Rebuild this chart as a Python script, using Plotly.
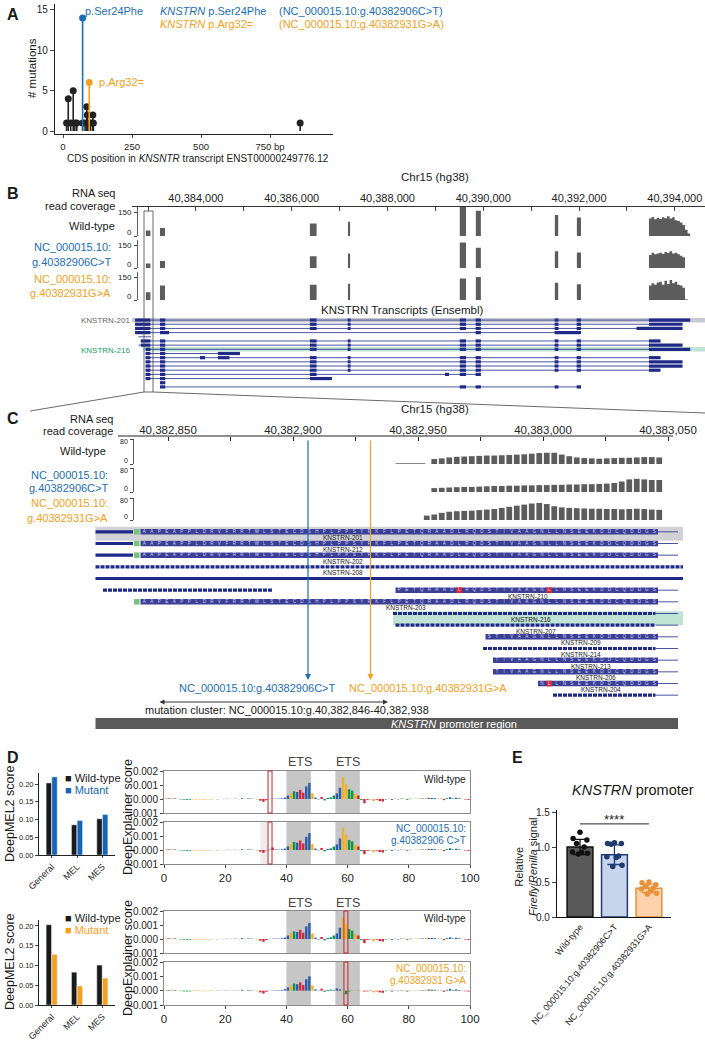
import numpy as np
import plotly.graph_objects as go

W, H = 705, 1042
OX, OY = 0, 0
FW, FH = W - OX, H - OY
FONT = "Liberation Sans, Arial, Helvetica, sans-serif"
TXT = "#1a1a1a"
BLUE = "#1c6db5"
ORANGE = "#f4a020"
NAVY = "#1f2a88"
AA_FILL = "#3b3f95"
GRAYC = "#5c5c5c"

# ===================== DATA =====================
# ---- Panel A: lollipop ----
A_BLACK_POS = [13, 19, 28, 37, 43, 50, 71, 80, 86, 88, 92, 100, 108, 110, 859]
A_BLACK_CNT = [1, 4, 1, 5, 1, 1, 1, 1, 3, 2, 1, 1, 2, 1, 1]
A_SER_POS = [71]
A_SER_CNT = [14]
A_ARG_POS = [95]
A_ARG_CNT = [6]
A_XTICKS = [0, 250, 500, 750]
A_XTICKTEXT = ["0", "250", "500", "750 bp"]
A_YTICKS = [0, 5, 10, 15]

# ---- Panel B: gene-wide coverage ----
B_RULER_TICKS = list(range(40383000, 40395000, 1000))
B_EXON_START = [40382955, 40383250, 40386380, 40387175, 40389510, 40389845, 40391495, 40391955]
B_EXON_END = [40383050, 40383355, 40386520, 40387220, 40389640, 40389950, 40391565, 40392040]
B_COV_WT = [35, 51, 79, 90, 183, 160, 132, 117]
B_COV_MUT1 = [29, 46, 77, 95, 167, 132, 110, 101]
B_COV_MUT2 = [51, 94, 99, 107, 141, 150, 112, 103]
B_LAST_START, B_LAST_END = 40393460, 40394320
B_LAST_WT = [110, 120, 105, 115, 108, 118, 112, 125, 110, 118, 100, 95, 85, 70, 40, 15]
B_LAST_MUT1 = [85, 100, 90, 95, 100, 92, 105, 98, 110, 95, 100, 90, 80, 70, 0, 0]
B_LAST_MUT2 = [95, 110, 100, 115, 120, 100, 125, 105, 130, 110, 120, 100, 95, 80, 5, 0]

TX_BLOCKS = {
    "a1": (40382730, 40383050), "a2": (40382850, 40383050), "a3": (40382950, 40383050),
    "b": (40383250, 40383360), "b2": (40383250, 40383440),
    "x1": (40384460, 40384920), "x2": (40384085, 40384190), "x3": (40384460, 40384700),
    "c": (40386380, 40386520), "c2": (40386380, 40386840), "d": (40387170, 40387230),
    "y1": (40389200, 40389285), "e": (40389510, 40389640), "f": (40389840, 40389950),
    "g": (40391490, 40391570), "gh": (40391490, 40392040), "h": (40391950, 40392040),
    "i_full": (40393460, 40394320), "i_mid": (40393460, 40394160),
    "i_short": (40393460, 40393700), "i_long": (40393200, 40394160),
}
B_TX_ROWS = [
    (40382730, 40394320, ["a1", "b", "c", "d", "e", "f", "g", "h", "i_full"]),
    (40382730, 40394160, ["a1", "b", "c", "d", "e", "f", "g", "h", "i_mid"]),
    (40382730, 40394160, ["a1", "b", "c", "d", "e", "f", "g", "h", "i_long"]),
    (40382730, 40392040, ["a1", "b2", "f", "gh"]),
    (40382800, 40383060, []),
    (40382850, 40393700, ["a2", "b", "c", "d", "e", "f", "g", "h", "i_short"]),
    (40382800, 40394160, ["a2", "b", "c", "d", "e", "f", "g", "h", "i_mid"]),
    (40382950, 40394320, ["a3", "b", "c", "d", "e", "f", "g", "h", "i_full"]),
    (40382950, 40384920, ["a3", "b", "x1"]),
    (40382950, 40393700, ["a3", "b", "x2", "x3", "c", "d", "e", "f", "g", "h", "i_short"]),
    (40382950, 40394160, ["a3", "b", "c", "d", "e", "f", "g", "h", "i_mid"]),
    (40382950, 40394160, ["a3", "b", "c", "d", "e", "f", "g", "h", "i_mid"]),
    (40382950, 40393700, ["a3", "b", "c", "d", "e", "f", "g", "h", "i_short"]),
    (40382950, 40389950, ["a3", "b", "c", "y1", "e", "f"]),
    (40382950, 40386840, ["a3", "b", "c2"]),
    (40383250, 40383360, ["b"]),
    (40383250, 40392040, ["b", "e", "f", "g", "h"]),
]

# ---- Panel C: promoter zoom ----
C_RULER_TICKS = list(range(40382850, 40383051, 25))
C_COV_POS = np.arange(40382952, 40383048, 3)
C_COV_WT = [0, 16, 18, 21, 23, 24, 25, 26, 27, 27, 28, 29, 30, 31, 33, 35, 36, 36, 30, 25,
            21, 19, 18, 17, 18, 19, 20, 20, 21, 22, 22, 21]
C_COV_MUT1 = [0, 13, 14, 15, 16, 17, 17, 18, 19, 20, 20, 21, 21, 22, 22, 23, 23, 24, 24, 25,
              25, 26, 26, 27, 28, 30, 35, 42, 44, 42, 40, 40]
C_COV_MUT2 = [16, 20, 26, 30, 32, 33, 34, 36, 38, 40, 44, 48, 52, 56, 60, 62, 58, 50, 46, 44,
              43, 42, 41, 41, 40, 40, 39, 40, 41, 40, 38, 37]
C_WT_LOW_X = [40382941, 40382953]
C_WT_LOW_Y = [1.5, 1.5]
MUT_POS = [40382906, 40382931]
MUT_LABELS = ["NC_000015.10:g.40382906C>T", "NC_000015.10:g.40382931G>A"]
CLUSTER = [40382846, 40382938]
PROMOTER = [40382821, 40383054]
CDS_START = 40382836
CODON0 = 40382839
PROTEIN = "MAAPEAPPLDRVFRRTWLSTECDSHPLPPSYRKFLPETQRAADLRQDSTIVAAGNLLNSEEKDDCQDDGSHAP"
N_CODONS = 69
C_ROWS = [
    dict(name="KNSTRN-201", kind="coding", utr=40382821, m=True, first=0, red=[]),
    dict(name="KNSTRN-212", kind="coding", utr=40382821, m=True, first=0, red=[]),
    dict(name="KNSTRN-202", kind="coding", utr=40382821, m=True, first=0, red=[]),
    dict(name="KNSTRN-208", kind="dashed", start=40382821, end=40383056),
    dict(name="", kind="solid", start=40382821, end=40383056),
    dict(name="KNSTRN-210", kind="coding", pre=(40382824, 40382892), m=False, first=34, red=[42, 54]),
    dict(name="KNSTRN-203", kind="coding", m=True, first=0, red=[]),
    dict(name="KNSTRN-216", kind="dashed", start=40382940, end=40383045),
    dict(name="KNSTRN-207", kind="dashed", start=40382941, end=40383045),
    dict(name="KNSTRN-209", kind="coding", m=False, first=46, red=[]),
    dict(name="KNSTRN-214", kind="dashed", start=40382976, end=40383045),
    dict(name="KNSTRN-213", kind="coding", m=False, first=47, red=[]),
    dict(name="KNSTRN-206", kind="coding", m=False, first=47, red=[]),
    dict(name="KNSTRN-204", kind="coding", m=False, first=53, red=[54]),
    dict(name="KNSTRN-211", kind="dashed", start=40383004, end=40383045),
]
C_LABEL_X = [40382920, 40382920, 40382920, 40382920, None, 40382994, 40382945, 40382995,
             40382997, 40383015, 40383015, 40383019, 40383021, 40383023, 40383027]
C_TAIL_END = 40383054

# ---- Panel D: DeepMEL2 ----
D_CATS = ["General", "MEL", "MES"]
D1_WT = [0.203, 0.085, 0.102]
D1_MUT = [0.220, 0.097, 0.114]
D2_WT = [0.203, 0.083, 0.101]
D2_MUT = [0.128, 0.048, 0.068]

# DeepExplainer contribution scores (units of 1e-4), positions 0..99
LOGO_SEQ_WT = "".join(["TCGCGAAAAG", "TGGGGAGCTC", "AGCTCAGCCG", "GTTTCCCCCC", "CGACTTCCGC",
                       "CTACAACCGG", "AAGTATTAGT", "TTAGCTCAGA", "CCGCCGCCCG", "CTACACCGTT"])
LOGO_SEQ_M1 = "".join(["TCGCGAAAAG", "TGGGGAGCTC", "AGCTCAGCCG", "GTTTCTCCCC", "CGACTTCCGC",
                       "CTACAACCGG", "AAGTATTAGT", "TTAGCTCAGA", "CCGCCGCCCG", "CTACACCGTT"])
LOGO_SEQ_M2 = "".join(["TCGCGAAAAG", "TGGGGAGCTC", "AGCTCAGCCG", "GTTTCCCCCC", "CGACTTCCGC",
                       "CTACAACCGA", "AAGTATTAGT", "TTAGCTCAGA", "CCGCCGCCCG", "CTACACCGTT"])
LOGO_WT = [0.2, 0.5, 0.6, 0.4, 0.2, -0.3, -0.5, -0.6, -0.5, -0.3,
           -0.2, -0.3, -0.4, -0.4, -0.3, -0.2, 0.1, -0.2, 0.1, -0.1,
           0.2, -0.2, 0.1, 0.2, -0.1, 0.6, 0.2, 0.4, 0.3, 0.2,
           -0.4, -1.2, -2.0, -0.8, 0.1, 0.2, 0.3, 0.3, 0.5, 1.0,
           2.5, 4.0, 5.5, 5.0, 6.5, 4.5, 9.0, 11.5, 4.0, 1.0,
           -0.3, 1.5, -1.0, 0.8, 1.2, 2.5, 4.0, 8.0, 15.5, 10.5,
           7.0, 6.0, 3.5, 2.5, -0.8, -3.0, -0.6, -0.3, -1.5, -0.5,
           -1.5, -1.8, -0.4, 0.3, -0.6, 0.2, -0.3, 0.3, 0.4, -0.6,
           0.2, 0.1, 0.3, 0.2, 0.4, 0.6, 0.8, 0.7, 0.6, 0.4,
           0.2, -0.8, 0.6, 1.2, 0.4, 0.9, 0.5, 0.2, -0.4, -0.6]
LOGO_MUT1 = [0.2, 0.5, 0.6, 0.4, 0.2, -0.3, -0.5, -0.6, -0.5, -0.3,
             -0.2, -0.3, -0.4, -0.4, -0.3, -0.2, 0.1, -0.2, 0.1, -0.1,
             0.2, -0.2, 0.1, 0.2, -0.1, 0.6, 0.2, 0.4, 0.3, 0.2,
             -0.4, -1.2, -2.0, -0.3, 0.3, 1.8, 0.4, 0.3, 0.5, 1.0,
             2.6, 4.2, 5.8, 5.2, 6.8, 4.7, 9.4, 12.0, 4.2, 1.0,
             -0.3, 1.5, -1.0, 0.8, 1.2, 2.5, 4.0, 8.2, 16.0, 10.8,
             7.2, 6.2, 3.6, 2.5, -0.8, -3.0, -0.6, -0.3, -1.5, -0.5,
             -1.5, -1.8, -0.4, 0.3, -0.6, 0.2, -0.3, 0.3, 0.4, -0.6,
             0.2, 0.1, 0.3, 0.2, 0.4, 0.6, 0.8, 0.7, 0.6, 0.4,
             0.2, -0.8, 0.6, 1.2, 0.4, 0.9, 0.5, 0.2, -0.4, -0.6]
LOGO_MUT2 = [0.2, 0.5, 0.6, 0.4, 0.2, -0.3, -0.5, -0.6, -0.5, -0.3,
             -0.2, -0.3, -0.4, -0.4, -0.3, -0.2, 0.1, -0.2, 0.1, -0.1,
             0.2, -0.2, 0.1, 0.2, -0.1, 0.6, 0.2, 0.4, 0.3, 0.2,
             -0.4, -1.2, -2.0, -0.8, 0.1, 0.2, 0.3, 0.3, 0.5, 1.0,
             2.3, 3.6, 5.0, 4.5, 5.8, 4.0, 8.0, 10.0, 3.6, 0.9,
             -0.3, 1.4, -0.8, 0.6, 0.8, 0.5, 1.5, 0.9, 0.4, -2.5,
             -0.6, 0.2, 0.3, 0.2, 0.1, -0.6, -0.5, -0.3, -1.2, -0.5,
             -1.2, -1.5, -0.4, 0.3, -0.6, 0.2, -0.3, 0.3, 0.4, -0.6,
             0.2, 0.1, 0.3, 0.2, 0.4, 0.6, 0.8, 0.7, 0.6, 0.4,
             0.2, -0.8, 0.6, 1.2, 0.4, 0.9, 0.5, 0.2, -0.4, -0.6]
LOGO_SCALE = 1e-4
ETS_SITES = [(40, 48), (56, 64)]
MUT_SITE_1 = (34.0, 35.3)
MUT_SITE_2 = (58.8, 60.1)

# ---- Panel E: luciferase ----
E_CATS = ["Wild-type", "NC_000015.10:g.40382906C>T", "NC_000015.10:g.40382931G>A"]
E_MEAN = [1.00, 0.89, 0.41]
E_SD = [0.11, 0.14, 0.06]
E_PTS = [[1.21, 1.12, 1.10, 1.05, 1.00, 0.93, 0.92, 0.91, 0.90],
         [1.06, 1.05, 1.05, 1.04, 0.87, 0.86, 0.85, 0.74, 0.72],
         [0.50, 0.49, 0.46, 0.44, 0.41, 0.40, 0.37, 0.34, 0.33]]
E_JITTER = [0.0, -0.2, 0.2, -0.1, 0.12, -0.22, 0.05, 0.22, -0.05]

# ===================== HELPERS =====================
def clamp(v): return min(1.0, max(0.0, v))
def fx(x): return (x - OX) / FW
def fy(y): return 1 - (y - OY) / FH
def dx(a, b): return [clamp(fx(a)), clamp(fx(b))]
def dy(top, bot): return [clamp(fy(bot)), clamp(fy(top))]

fig = go.Figure()
ann, shapes = [], []


def text(x, y, s, size=11, color=TXT, xanchor="center", yanchor="middle", angle=0):
    ann.append(dict(x=fx(x), y=fy(y), xref="paper", yref="paper", text=s, showarrow=False,
                    font=dict(family=FONT, size=size, color=color), xanchor=xanchor,
                    yanchor=yanchor, textangle=angle))


def ytick(yref, val, label, xpx, yanchor, shift, size):
    ann.append(dict(x=fx(xpx), xref="paper", y=val, yref=yref, text=label, showarrow=False,
                    xanchor="right", yanchor=yanchor, yshift=shift,
                    font=dict(family=FONT, size=size, color="#222222")))


def add(tr):
    tr.update(hoverinfo="skip", showlegend=False)
    fig.add_trace(tr)


def stems(xs, ys):
    X, Y = [], []
    for a, b in zip(xs, ys):
        X += [a, a, None]
        Y += [0, b, None]
    return X, Y

# ===================== PANEL A =====================
for pos, cnt, col in [(A_BLACK_POS, A_BLACK_CNT, "#222222"), (A_SER_POS, A_SER_CNT, BLUE),
                      (A_ARG_POS, A_ARG_CNT, ORANGE)]:
    X, Y = stems(pos, cnt)
    add(go.Scatter(x=X, y=Y, mode="lines", line=dict(color=col, width=1.6), xaxis="x", yaxis="y"))
    add(go.Scatter(x=pos, y=cnt, mode="markers", marker=dict(color=col, size=7), xaxis="x", yaxis="y",
                   cliponaxis=False))

text(5, 14, "<b>A</b>", 16, xanchor="left")
text(83, 11, "p.Ser24Phe", 11, BLUE, xanchor="left")
text(97, 82, "p.Arg32=", 11, ORANGE, xanchor="left")
text(158, 11, "<i>KNSTRN</i> p.Ser24Phe", 11, BLUE, xanchor="left")
text(277, 11, "(NC_000015.10:g.40382906C>T)", 11, BLUE, xanchor="left")
text(158, 24, "<i>KNSTRN</i> p.Arg32=", 11, ORANGE, xanchor="left")
text(277, 24, "(NC_000015.10:g.40382931G>A)", 11, ORANGE, xanchor="left")
text(32, 68, "# mutations", 11.5, angle=-90)
text(198, 158, "CDS position in <i>KNSNTR</i> transcript ENST00000249776.12", 10)

# ===================== PANEL B =====================
def cov_poly(starts, ends, heights, prof):
    X, Y = [], []
    for s, e, h in zip(starts, ends, heights):
        X += [s, s, e, e]
        Y += [0, h, h, 0]
    edges = np.linspace(B_LAST_START, B_LAST_END, len(prof) + 1)
    X.append(B_LAST_START); Y.append(0)
    for i, h in enumerate(prof):
        X += [edges[i], edges[i + 1]]
        Y += [h, h]
    X.append(B_LAST_END); Y.append(0)
    return X, Y

for vals, prof, yax in [(B_COV_WT, B_LAST_WT, "y2"), (B_COV_MUT1, B_LAST_MUT1, "y3"),
                        (B_COV_MUT2, B_LAST_MUT2, "y4")]:
    X, Y = cov_poly(B_EXON_START, B_EXON_END, vals, prof)
    add(go.Scatter(x=X, y=Y, mode="lines", line=dict(width=0, color=GRAYC), fill="tozeroy",
                   fillcolor=GRAYC, xaxis="x2", yaxis=yax))
    ytick(yax, 150, "150", 134, "middle", 0, 8)
    ytick(yax, 0, "0", 134, "bottom", -3, 8)

IX, IY, EX, EY = [], [], [], []
for i, (s, e, blocks) in enumerate(B_TX_ROWS):
    IX += [s, e, None]; IY += [i, i, None]
    for b in blocks:
        bs, be = TX_BLOCKS[b]
        EX += [bs, be, None]; EY += [i, i, None]
shapes.append(dict(type="rect", xref="x2", yref="y5", x0=40382600, x1=40394700, y0=-0.6, y1=0.55,
                   fillcolor="#c9c9d3", line=dict(width=0), layer="below"))
shapes.append(dict(type="rect", xref="x2", yref="y5", x0=40382900, x1=40394700, y0=6.45, y1=7.55,
                   fillcolor="#bfe3d4", line=dict(width=0), layer="below"))
add(go.Scatter(x=IX, y=IY, mode="lines", line=dict(color=NAVY, width=0.8), xaxis="x2", yaxis="y5"))
add(go.Scatter(x=EX, y=EY, mode="lines", line=dict(color=NAVY, width=3.2), xaxis="x2", yaxis="y5"))

text(5, 193, "<b>B</b>", 16, xanchor="left")
text(435, 177, "Chr15 (hg38)", 11.5)
text(117, 193, "RNA seq", 11, xanchor="right")
text(117, 206, "read coverage", 11, xanchor="right")
text(117, 226, "Wild-type", 11, xanchor="right")
text(113, 247, "NC_000015.10:", 11, BLUE, xanchor="right")
text(113, 262, "g.40382906C>T", 11, BLUE, xanchor="right")
text(113, 279, "NC_000015.10:", 11, ORANGE, xanchor="right")
text(113, 293, "g.40382931G>A", 11, ORANGE, xanchor="right")
text(402, 310, "KNSTRN Transcripts (Ensembl)", 11.5)
text(132, 320, "KNSTRN-201", 8, "#666666", xanchor="right")
text(132, 350, "KNSTRN-216", 8, "#1e9e5e", xanchor="right")

# zoom box + connectors
shapes.append(dict(type="rect", xref="paper", yref="paper", x0=fx(144), x1=fx(153), y0=fy(392), y1=fy(211),
                   line=dict(color="#444444", width=0.8)))
shapes.append(dict(type="line", xref="paper", yref="paper", x0=fx(144), y0=fy(392), x1=fx(30), y1=fy(411),
                   line=dict(color="#444444", width=0.8)))
shapes.append(dict(type="line", xref="paper", yref="paper", x0=fx(153), y0=fy(392), x1=fx(705), y1=fy(413),
                   line=dict(color="#444444", width=0.8)))

# ===================== PANEL C =====================
shapes.append(dict(type="line", xref="x3", yref="paper", x0=40382830, x1=40383052, y0=fy(436), y1=fy(436),
                   line=dict(color="#222222", width=1)))
for vals, yax in [(C_COV_WT, "y6"), (C_COV_MUT1, "y7"), (C_COV_MUT2, "y8")]:
    add(go.Bar(x=C_COV_POS + 1.5, y=vals, width=2.3, marker=dict(color=GRAYC, line=dict(width=0)),
               xaxis="x3", yaxis=yax))
    ytick(yax, 80, "80", 130, "top", 3, 7)
    ytick(yax, 0, "0", 130, "bottom", -2, 7)
add(go.Scatter(x=C_WT_LOW_X, y=C_WT_LOW_Y, mode="lines", line=dict(color="#888888", width=1),
               xaxis="x3", yaxis="y6"))

# transcript highlight bands
shapes.append(dict(type="rect", xref="x3", yref="y9", x0=40382821, x1=40383056, y0=-0.43, y1=0.77,
                   fillcolor="#d2d2d6", line=dict(width=0), layer="below"))
shapes.append(dict(type="rect", xref="x3", yref="y9", x0=40382940, x1=40383056, y0=6.8, y1=8.0,
                   fillcolor="#bfe3d4", line=dict(width=0), layer="below"))

SX, SY, DXs, DYs, TX, TY, AX, AY = [], [], [], [], [], [], [], []
LX, LY, LT, MX, MY, RX, RY = [], [], [], [], [], [], []
for i, r in enumerate(C_ROWS):
    if r["kind"] == "solid":
        SX += [r["start"], r["end"], None]; SY += [i, i, None]
    elif r["kind"] == "dashed":
        DXs += [r["start"], r["end"], None]; DYs += [i, i, None]
        if r["end"] < C_TAIL_END:
            TX += [r["end"], C_TAIL_END, None]; TY += [i, i, None]
    else:
        if r.get("utr"):
            SX += [r["utr"], CDS_START, None]; SY += [i, i, None]
        if r.get("pre"):
            DXs += [r["pre"][0], r["pre"][1], None]; DYs += [i, i, None]
        if r["m"]:
            MX.append(CDS_START + 1.5); MY.append(i)
        a0 = CODON0 + 3 * r["first"]
        aend = CODON0 + 3 * N_CODONS
        AX += [a0, aend, None]; AY += [i, i, None]
        for k in range(r["first"], N_CODONS):
            LX.append(CODON0 + 3 * k + 1.5); LY.append(i); LT.append(PROTEIN[k + 1])
        for k in r["red"]:
            RX.append(CODON0 + 3 * k + 1.5); RY.append(i)
        TX += [aend, C_TAIL_END, None]; TY += [i, i, None]

add(go.Scatter(x=TX, y=TY, mode="lines", line=dict(color=NAVY, width=0.8), xaxis="x3", yaxis="y9"))
add(go.Scatter(x=SX, y=SY, mode="lines", line=dict(color=NAVY, width=3.2), xaxis="x3", yaxis="y9"))
add(go.Scatter(x=DXs, y=DYs, mode="lines", line=dict(color=NAVY, width=3.2, dash="4px,1px"),
               xaxis="x3", yaxis="y9"))
add(go.Scatter(x=AX, y=AY, mode="lines", line=dict(color=AA_FILL, width=5.5), xaxis="x3", yaxis="y9"))
add(go.Scatter(x=RX, y=RY, mode="markers", marker=dict(symbol="square", size=5.5, color="#e3262b"),
               xaxis="x3", yaxis="y9"))
add(go.Scatter(x=MX, y=MY, mode="markers", marker=dict(symbol="square", size=5.5, color="#79c27a"),
               xaxis="x3", yaxis="y9"))
add(go.Scatter(x=LX, y=LY, mode="text", text=LT, textfont=dict(family=FONT, size=4.5, color="#d4d6f5"),
               xaxis="x3", yaxis="y9"))
for i, r in enumerate(C_ROWS):
    if r["name"]:
        ann.append(dict(x=C_LABEL_X[i], y=i + 0.52, xref="x3", yref="y9", text=r["name"], showarrow=False,
                        font=dict(family=FONT, size=6.5, color="#222222")))

# mutation arrows
for pos, col, lab, lx in zip(MUT_POS, [BLUE, ORANGE], MUT_LABELS, [257, 428]):
    ann.append(dict(x=pos, y=fy(680), xref="x3", yref="paper", text="", showarrow=True, ax=0, ay=-241,
                    axref="pixel", ayref="pixel", arrowhead=2, arrowsize=1, arrowwidth=1.2, arrowcolor=col))
    text(lx, 688, lab, 11, col)
ann.append(dict(x=CLUSTER[1], y=fy(702), xref="x3", yref="paper", ax=CLUSTER[0], ay=0, axref="x3",
                ayref="pixel", text="", showarrow=True, arrowhead=2, arrowside="end+start", arrowsize=1,
                arrowwidth=1, arrowcolor="#333333"))
text(287, 710, "mutation cluster: NC_000015.10:g.40,382,846-40,382,938", 11)
shapes.append(dict(type="rect", xref="x3", yref="paper", x0=PROMOTER[0], x1=PROMOTER[1], y0=fy(729),
                   y1=fy(718), fillcolor="#5a5a5a", line=dict(width=0)))
text(454, 723.5, "<i>KNSTRN</i> promoter region", 11, "white")

text(5, 418, "<b>C</b>", 16, xanchor="left")
text(435, 409, "Chr15 (hg38)", 11.5)
text(115, 419, "RNA seq", 11, xanchor="right")
text(115, 431, "read coverage", 11, xanchor="right")
text(108, 451, "Wild-type", 11, xanchor="right")
text(110, 475, "NC_000015.10:", 11, BLUE, xanchor="right")
text(110, 488, "g.40382906C>T", 11, BLUE, xanchor="right")
text(110, 503, "NC_000015.10:", 11, ORANGE, xanchor="right")
text(110, 518, "g.40382931G>A", 11, ORANGE, xanchor="right")

# ===================== PANEL D =====================
for wt, mu, xa, ya, col in [(D1_WT, D1_MUT, "x4", "y10", "#1565b8"), (D2_WT, D2_MUT, "x5", "y11", "#f7a01e")]:
    add(go.Bar(x=D_CATS, y=wt, marker=dict(color="#1a1a1a"), xaxis=xa, yaxis=ya))
    add(go.Bar(x=D_CATS, y=mu, marker=dict(color=col), xaxis=xa, yaxis=ya))

text(5, 757, "<b>D</b>", 16, xanchor="left")
text(10, 814, "DeepMEL2 score", 12.5, angle=-90)
text(10, 962, "DeepMEL2 score", 12.5, angle=-90)
text(63, 778, '<span style="color:#1a1a1a">■</span> Wild-type', 11, xanchor="left")
text(63, 790, '<span style="color:#1565b8">■ Mutant</span>', 11, xanchor="left")
text(63, 918, '<span style="color:#1a1a1a">■</span> Wild-type', 11, xanchor="left")
text(63, 930, '<span style="color:#f7a01e">■ Mutant</span>', 11, xanchor="left")

LOGO_COL = {"A": "#109648", "C": "#2b5fa8", "G": "#f5b025", "T": "#d7263d"}
logos = [(LOGO_WT, LOGO_SEQ_WT, MUT_SITE_1), (LOGO_MUT1, LOGO_SEQ_M1, MUT_SITE_1),
         (LOGO_WT, LOGO_SEQ_WT, MUT_SITE_2), (LOGO_MUT2, LOGO_SEQ_M2, MUT_SITE_2)]
for k, (vals, seq, site) in enumerate(logos):
    xa, ya = f"x{6 + k}", f"y{12 + k}"
    add(go.Bar(x=np.arange(len(vals)) + 0.5, y=np.array(vals) * LOGO_SCALE, width=0.8,
               marker=dict(color=[LOGO_COL[c] for c in seq], line=dict(width=0)), xaxis=xa, yaxis=ya))
    for a, b in ETS_SITES:
        shapes.append(dict(type="rect", xref=xa, yref=f"{ya} domain", x0=a, x1=b, y0=0, y1=1,
                           fillcolor="#c6c6c6", line=dict(width=0), layer="below"))
    if k == 1:
        shapes.append(dict(type="rect", xref=xa, yref=f"{ya} domain", x0=31.5, x1=34, y0=0, y1=1,
                           fillcolor="#ececec", line=dict(width=0), layer="below"))
    shapes.append(dict(type="rect", xref=xa, yref=f"{ya} domain", x0=site[0], x1=site[1], y0=0, y1=1,
                       line=dict(color="#c0272d", width=1)))

text(128, 817, "DeepExplainer score", 12.5, angle=-90)
text(128, 958, "DeepExplainer score", 12.5, angle=-90)
for yy in (762, 903):
    text(300, yy, "ETS", 12.5, "#444444")
    text(348, yy, "ETS", 12.5, "#444444")
text(468, 779, "Wild-type", 10, xanchor="right")
text(468, 828, "NC_000015.10:", 10, BLUE, xanchor="right")
text(468, 840, "g.40382906 C>T", 10, BLUE, xanchor="right")
text(468, 918, "Wild-type", 10, xanchor="right")
text(468, 968, "NC_000015.10:", 10, ORANGE, xanchor="right")
text(468, 980, "g.40382931 G>A", 10, ORANGE, xanchor="right")

# ===================== PANEL E =====================
E_FILL = ["#595959", "#c8d4eb", "#fdd3ae"]
E_EDGE = ["#111111", "#1f3d7a", "#e8913c"]
E_DOT = ["#111111", "#1f3a6e", "#e8913c"]
add(go.Bar(x=[0, 1, 2], y=E_MEAN, width=0.75, marker=dict(color=E_FILL, line=dict(color=E_EDGE, width=1.5)),
           xaxis="x10", yaxis="y16"))
for i in range(3):
    add(go.Scatter(x=[i], y=[E_MEAN[i]], mode="markers", marker=dict(size=1, color=E_EDGE[i]),
                   error_y=dict(type="data", array=[E_SD[i]], color=E_EDGE[i], thickness=1.3, width=7),
                   xaxis="x10", yaxis="y16"))
    add(go.Scatter(x=[i + j for j in E_JITTER], y=E_PTS[i], mode="markers",
                   marker=dict(size=5.5, color=E_DOT[i]), xaxis="x10", yaxis="y16"))
shapes.append(dict(type="line", xref="x10", yref="y16", x0=0, x1=2, y0=1.33, y1=1.33,
                   line=dict(color="#222222", width=1)))
ann.append(dict(x=1, y=1.39, xref="x10", yref="y16", text="****", showarrow=False,
                font=dict(family=FONT, size=13, color="#222222")))
text(510, 757, "<b>E</b>", 16, xanchor="left")
text(633, 790, "<i>KNSTRN</i> promoter", 14.5)
text(526, 867, "Relative<br><i>Firefly</i>/<i>Renilla</i> signal", 11, angle=-90)

# ===================== LAYOUT =====================
tf = lambda s: dict(family=FONT, size=s, color="#222222")
base = dict(showgrid=False, zeroline=False, automargin=False)
lay = {}
lay["xaxis"] = dict(base, domain=dx(55, 333), range=[-29, 978], tickvals=A_XTICKS, ticktext=A_XTICKTEXT,
                    ticks="outside", ticklen=3, showline=True, linecolor="#222", linewidth=1.2,
                    tickfont=tf(9.5), anchor="y")
lay["yaxis"] = dict(base, domain=dy(4, 134), range=[-0.37, 15.74], tickvals=A_YTICKS, ticks="outside",
                    ticklen=4, showline=True, linecolor="#222", linewidth=1.2, tickfont=tf(10), anchor="x")

lay["xaxis2"] = dict(base, domain=dx(132, 705), range=[40382666, 40394630], anchor="free", position=fy(206),
                     side="top", showline=True, linecolor="#333", linewidth=1, tickvals=B_RULER_TICKS,
                     ticktext=[f"{v:,}" if v % 2000 == 0 else "" for v in B_RULER_TICKS],
                     ticks="inside", ticklen=4, tickfont=tf(11))
for name, (t, b) in [("yaxis2", (207, 236)), ("yaxis3", (240, 268)), ("yaxis4", (272, 300))]:
    lay[name] = dict(base, domain=dy(t, b), range=[0, 183], anchor="free", position=fx(137), tickvals=[0, 150],
                     ticks="outside", ticklen=3, showline=True, linecolor="#333", linewidth=0.8,
                     showticklabels=False)
lay["yaxis5"] = dict(base, domain=dy(318, 389), range=[16.5, -0.5], anchor="x2", visible=False)

lay["xaxis3"] = dict(base, domain=dx(90, 700), range=[40382818.8, 40383062.8], anchor="free",
                     position=fy(436), side="top", showline=False, tickvals=C_RULER_TICKS,
                     ticktext=[f"{v:,}" if v % 50 == 0 else "" for v in C_RULER_TICKS],
                     ticks="inside", ticklen=4, tickcolor="#222", tickfont=tf(11.5))
for name, (t, b) in [("yaxis6", (439, 464)), ("yaxis7", (468, 492)), ("yaxis8", (498, 520))]:
    lay[name] = dict(base, domain=dy(t, b), range=[0, 80], anchor="free", position=fx(133), tickvals=[0, 80],
                     ticks="outside", ticklen=3, showline=True, linecolor="#333", linewidth=0.8,
                     showticklabels=False)
lay["yaxis9"] = dict(base, domain=dy(526, 701), range=[14.5, -0.5], anchor="x3", visible=False)

for xn, yn, (t, b), top in [("xaxis4", "yaxis10", (773, 855), 0.231), ("xaxis5", "yaxis11", (920, 1005), 0.215)]:
    lay[xn] = dict(base, domain=dx(39, 115), anchor=yn.replace("axis", ""), showline=True, linecolor="#222",
                   linewidth=1, ticks="outside", ticklen=2, tickangle=-45, tickfont=tf(9))
    lay[yn] = dict(base, domain=dy(t, b), range=[0, top], anchor=xn.replace("axis", ""), showline=True,
                   linecolor="#222", linewidth=1, ticks="outside", ticklen=3,
                   tickvals=[0, 0.05, 0.1, 0.15, 0.2], ticktext=["0.00", "0.05", "0.10", "0.15", "0.20"],
                   tickfont=tf(7.5))

for k, (t, b) in enumerate([(771, 813), (822, 864), (911, 953), (962, 1005)]):
    xn, yn = f"xaxis{6 + k}", f"yaxis{12 + k}"
    show = k in (1, 3)
    lay[xn] = dict(base, domain=dx(164, 470), range=[0, 100], anchor=f"y{12 + k}", showline=True, mirror=True,
                   linecolor="#8a8a8a", linewidth=1, tickvals=[0, 20, 40, 60, 80, 100],
                   showticklabels=show, ticks="outside" if show else "", ticklen=3, tickfont=tf(11.5))
    lay[yn] = dict(base, domain=dy(t, b), range=[-0.001, 0.002], anchor=f"x{6 + k}", showline=True, mirror=True,
                   linecolor="#8a8a8a", linewidth=1, tickvals=[-0.001, 0, 0.001, 0.002],
                   ticktext=["-0.001", "0.000", "0.001", "0.002"], ticks="outside", ticklen=3, tickfont=tf(10))

lay["xaxis10"] = dict(base, domain=dx(557, 671), range=[-0.667, 2.64], anchor="y16", tickvals=[0, 1, 2],
                      ticktext=E_CATS, tickangle=-50, tickfont=tf(9), showline=True, linecolor="#111",
                      linewidth=1.2)
lay["yaxis16"] = dict(base, domain=dy(810, 917), range=[0, 1.5286], anchor="x10", tickvals=[0, 0.5, 1.0, 1.5],
                      ticktext=["0.0", "0.5", "1.0", "1.5"], ticks="outside", ticklen=4, showline=True,
                      linecolor="#111", linewidth=1.2, tickfont=tf(10))

fig.update_layout(width=FW, height=FH, margin=dict(l=0, r=0, t=0, b=0, autoexpand=False), showlegend=False,
                  plot_bgcolor="white", paper_bgcolor="white", barmode="group", bargap=0.55,
                  bargroupgap=0.06, font=dict(family=FONT, color=TXT), annotations=ann, shapes=shapes,
                  hovermode=False, **lay)
fig.write_html("out.html", config={"displayModeBar": False, "staticPlot": True},
               post_script="document.body.style.margin='0px';document.documentElement.style.overflow='hidden';")
